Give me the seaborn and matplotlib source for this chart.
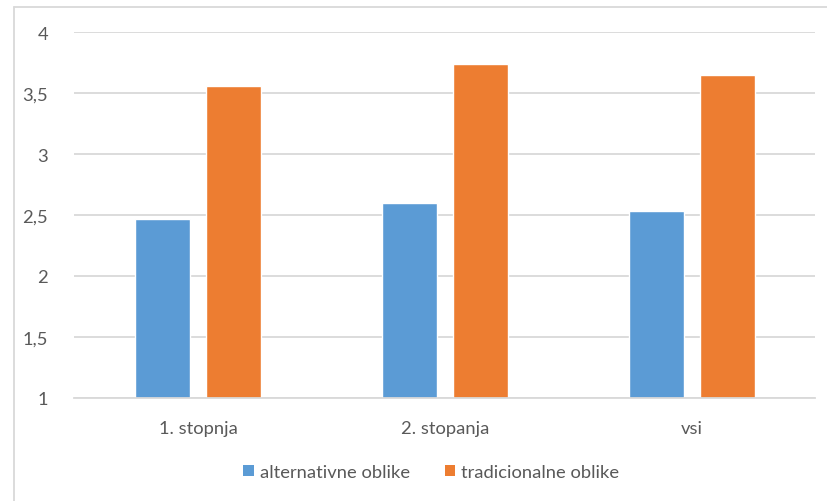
import matplotlib
matplotlib.use("Agg")
import matplotlib.pyplot as plt
from matplotlib.patches import Patch
from matplotlib.lines import Line2D
import seaborn as sns
import pandas as pd

# Average scores per study level
categories = ["1. stopnja", "2. stopanja", "vsi"]
series_names = ["alternativne oblike", "tradicionalne oblike"]
alternativne = [2.47, 2.60, 2.53]
tradicionalne = [3.56, 3.74, 3.65]
y_ticks = [1, 1.5, 2, 2.5, 3, 3.5, 4]
y_tick_labels = ["1", "1,5", "2", "2,5", "3", "3,5", "4"]

colors = ["#5B9BD5", "#ED7D31"]
grid_color = "#D9D9D9"
text_color = "#595959"

df = pd.DataFrame({
    "kategorija": categories * 2,
    "vrednost": alternativne + tradicionalne,
    "oblika": [series_names[0]] * 3 + [series_names[1]] * 3,
})

sns.set_theme(style="white")
plt.rcParams["font.family"] = ["Lato", "DejaVu Sans"]

W, H = 828, 502
fig = plt.figure(figsize=(W / 100, H / 100), dpi=100)
ax = fig.add_axes([74.5 / W, 1 - 398.7 / H, 741 / W, 365.4 / H])

sns.barplot(data=df, x="kategorija", y="vrednost", hue="oblika",
            palette=colors, width=0.575, gap=0.225, saturation=1,
            order=categories, hue_order=series_names, ax=ax, legend=False)

ax.set_ylim(1, 4)
ax.set_xlim(-0.5, 2.5)
ax.set_yticks(y_ticks)
ax.set_yticklabels(y_tick_labels)
ax.set_xlabel("")
ax.set_ylabel("")
ax.yaxis.grid(True, color=grid_color, linewidth=1.3)
ax.set_axisbelow(True)
for side in ["top", "right", "left"]:
    ax.spines[side].set_visible(False)
ax.spines["bottom"].set_color(grid_color)
ax.spines["bottom"].set_linewidth(1.3)
ax.tick_params(axis="both", length=0, labelsize=13.2, labelcolor=text_color)
ax.tick_params(axis="y", pad=19)
ax.tick_params(axis="x", pad=16)

# Legend below the plot
handles = [Patch(facecolor=c, edgecolor="none") for c in colors]
fig.legend(handles, series_names, loc="center", ncol=2,
           bbox_to_anchor=(431.5 / W, 1 - 473 / H), frameon=False,
           handlelength=0.55, handleheight=0.55, handletextpad=0.35,
           columnspacing=1.9, fontsize=13.2, labelcolor=text_color)

# Chart area border (top and left edges)
fig.add_artist(Line2D([14 / W, 1], [1 - 8 / H, 1 - 8 / H], color=grid_color,
                      linewidth=1.3, transform=fig.transFigure))
fig.add_artist(Line2D([14 / W, 14 / W], [0, 1 - 8 / H], color=grid_color,
                      linewidth=1.3, transform=fig.transFigure))

fig.savefig("out.png", dpi=100)
